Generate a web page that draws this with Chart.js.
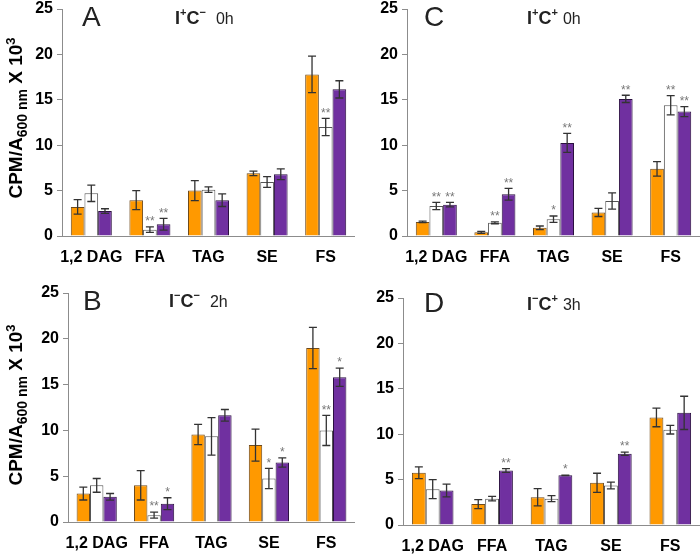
<!DOCTYPE html>
<html>
<head>
<meta charset="utf-8">
<script src="https://cdn.jsdelivr.net/npm/chart.js@4.4.1/dist/chart.umd.min.js"></script>
<style>
  html,body{margin:0;padding:0;background:#fff;}
  #wrap{position:relative;width:700px;height:557px;overflow:hidden;font-family:"Liberation Sans",Arial,sans-serif;}
  canvas{position:absolute;}
  .letter{position:absolute;font-size:28px;line-height:28px;color:#222;}
  .ttl{position:absolute;font-size:18px;line-height:18px;font-weight:bold;color:#222;white-space:nowrap;}
  .ttl .s{position:relative;top:-8px;font-size:11px;}
  .ttl .h{font-weight:normal;font-size:16px;}
  .ylab{position:absolute;width:240px;height:22px;line-height:22px;text-align:center;font-weight:bold;font-size:19px;color:#000;
        transform:rotate(-90deg);white-space:nowrap;}
  .ylab .sub{font-size:14px;position:relative;top:5px;}
  .ylab .sup{font-size:13px;position:relative;top:-7px;}
</style>
</head>
<body>
<div id="wrap">
  <canvas id="cA" width="355" height="275" style="left:0;top:0"></canvas>
  <canvas id="cC" width="350" height="275" style="left:350px;top:0"></canvas>
  <canvas id="cB" width="355" height="280" style="left:0;top:277px"></canvas>
  <canvas id="cD" width="350" height="280" style="left:350px;top:277px"></canvas>

  <div class="letter" style="left:82px;top:3px">A</div>
  <div class="letter" style="left:424px;top:3px">C</div>
  <div class="letter" style="left:83px;top:287px">B</div>
  <div class="letter" style="left:424px;top:289px">D</div>

  <div class="ttl" style="left:175px;top:9px">I<span class="s">+</span>C<span class="s">−</span>&nbsp;&nbsp;<span class="h">0h</span></div>
  <div class="ttl" style="left:527px;top:9px">I<span class="s">+</span>C<span class="s">+</span> <span class="h">0h</span></div>
  <div class="ttl" style="left:169px;top:292px">I<span class="s">−</span>C<span class="s">−</span>&nbsp;&nbsp;<span class="h">2h</span></div>
  <div class="ttl" style="left:527px;top:295px">I<span class="s">−</span>C<span class="s">+</span> <span class="h">3h</span></div>

  <div class="ylab" style="left:-104px;top:107px">CPM/A<span class="sub">600 nm</span> X 10<span class="sup">3</span></div>
  <div class="ylab" style="left:-104px;top:394px">CPM/A<span class="sub">600 nm</span> X 10<span class="sup">3</span></div>
</div>
<script>
// ===== 資料 =====
const cats = ['1,2 DAG', 'FFA', 'TAG', 'SE', 'FS'];

// A: I+C- 0h
const A_org = [3.2, 3.95, 5.0, 6.9, 17.8],   A_orgErr = [0.8, 1.05, 1.1, 0.25, 2.0];
const A_wht = [4.7, 0.7, 5.1, 5.95, 12.0],   A_whtErr = [0.9, 0.3, 0.3, 0.6, 0.95];
const A_pur = [2.75, 1.3, 3.95, 6.8, 16.15], A_purErr = [0.25, 0.65, 0.7, 0.6, 0.95];
const A_whtStar = ['', '**', '', '', '**'];
const A_purStar = ['', '**', '', '', ''];

// C: I+C+ 0h
const C_org = [1.55, 0.4, 0.9, 2.6, 7.4],    C_orgErr = [0.08, 0.1, 0.2, 0.45, 0.8];
const C_wht = [3.3, 1.45, 1.85, 3.85, 14.4], C_whtErr = [0.4, 0.1, 0.35, 0.9, 1.05];
const C_pur = [3.45, 4.6, 10.25, 15.1, 13.7], C_purErr = [0.25, 0.65, 1.05, 0.4, 0.55];
const C_whtStar = ['**', '**', '*', '', '**'];
const C_purStar = ['**', '**', '**', '**', '**'];

// B: I-C- 2h
const B_org = [3.1, 4.0, 9.55, 8.4, 19.0],   B_orgErr = [0.7, 1.6, 1.1, 1.75, 2.25];
const B_wht = [4.0, 0.75, 9.35, 4.75, 10.0], B_whtErr = [0.75, 0.33, 2.05, 1.1, 1.65];
const B_pur = [2.75, 2.0, 11.65, 6.5, 15.8], B_purErr = [0.36, 0.65, 0.63, 0.5, 1.0];
const B_whtStar = ['', '**', '', '*', '**'];
const B_purStar = ['', '*', '', '*', '*'];

// D: I-C+ 3h
const D_org = [5.75, 2.3, 3.05, 4.65, 11.85], D_orgErr = [0.65, 0.5, 0.95, 1.05, 1.03];
const D_wht = [3.95, 2.9, 2.9, 4.35, 10.5],   D_whtErr = [1.05, 0.25, 0.33, 0.37, 0.48];
const D_pur = [3.8, 6.0, 5.47, 7.85, 12.35],  D_purErr = [0.7, 0.2, 0.03, 0.18, 1.83];
const D_whtStar = ['', '', '', '', ''];
const D_purStar = ['', '**', '*', '**', ''];

const yTicks = [0, 5, 10, 15, 20, 25];

// ===== 樣式 =====
const ORG = '#FF9900', PUR = '#7030A0', AXIS = '#8c8c8c';
const FONT = '"Liberation Sans", Arial, sans-serif';

// 誤差線 + 星號
const errPlugin = {
  id: 'errBars',
  afterDatasetsDraw(c) {
    const { ctx, scales: { y } } = c;
    ctx.save();
    c.data.datasets.forEach((ds, i) => {
      c.getDatasetMeta(i).data.forEach((bar, j) => {
        const v = ds.data[j], e = ds.err[j];
        const yt = y.getPixelForValue(v + e), yb = y.getPixelForValue(v - e);
        const x = bar.x;
        ctx.strokeStyle = '#333'; ctx.lineWidth = 1.3;
        ctx.beginPath();
        ctx.moveTo(x, yt); ctx.lineTo(x, yb);
        ctx.moveTo(x - 4, yt); ctx.lineTo(x + 4, yt);
        ctx.moveTo(x - 4, yb); ctx.lineTo(x + 4, yb);
        ctx.stroke();
        const s = ds.stars && ds.stars[j];
        if (s) {
          ctx.fillStyle = '#777'; ctx.font = '12px ' + FONT;
          ctx.textAlign = 'center'; ctx.textBaseline = 'bottom';
          ctx.fillText(s, x, yt + 1);
        }
      });
    });
    ctx.restore();
  }
};

function makeChart(id, org, orgErr, wht, whtErr, pur, purErr, whtStar, purStar, pad) {
  return new Chart(document.getElementById(id), {
    type: 'bar',
    data: {
      labels: cats,
      datasets: [
        { data: org, err: orgErr, backgroundColor: ORG, borderColor: '#6e4a1c', borderWidth: 1 },
        { data: wht, err: whtErr, stars: whtStar, backgroundColor: '#fff', borderColor: '#555', borderWidth: 1 },
        { data: pur, err: purErr, stars: purStar, backgroundColor: PUR, borderColor: '#2b1040', borderWidth: 1 }
      ]
    },
    options: {
      responsive: false, animation: false, devicePixelRatio: 1,
      layout: { padding: pad },
      plugins: { legend: { display: false }, tooltip: { enabled: false } },
      datasets: { bar: { categoryPercentage: 0.7, barPercentage: 1.0 } },
      scales: {
        x: {
          grid: { display: false },
          border: { display: true, color: AXIS, width: 1 },
          ticks: { color: '#000', font: { family: FONT, size: 16, weight: 'bold' }, padding: 4, maxRotation: 0, autoSkip: false },
          afterFit: s => { s.height = pad.xh; }
        },
        y: {
          min: 0, max: 25,
          afterBuildTicks: s => { s.ticks = yTicks.map(v => ({ value: v })); },
          grid: { drawOnChartArea: false, drawTicks: true, tickLength: 5, color: AXIS },
          border: { display: true, color: AXIS, width: 1 },
          ticks: { color: '#000', font: { family: FONT, size: 16, weight: 'bold', lineHeight: 1 }, padding: 4 },
          afterFit: s => { s.width = 40; s.paddingTop = 0; s.paddingBottom = 0; }
        }
      }
    },
    plugins: [errPlugin]
  });
}

makeChart('cA', A_org, A_orgErr, A_wht, A_whtErr, A_pur, A_purErr, A_whtStar, A_purStar, { left: 22, top: 9, right: 0, bottom: 0, xh: 39 });
makeChart('cC', C_org, C_orgErr, C_wht, C_whtErr, C_pur, C_purErr, C_whtStar, C_purStar, { left: 17, top: 9, right: 0, bottom: 0, xh: 39 });
makeChart('cB', B_org, B_orgErr, B_wht, B_whtErr, B_pur, B_purErr, B_whtStar, B_purStar, { left: 28, top: 16, right: 0, bottom: 0, xh: 35 });
makeChart('cD', D_org, D_orgErr, D_wht, D_whtErr, D_pur, D_purErr, D_whtStar, D_purStar, { left: 13, top: 21, right: 0, bottom: 0, xh: 32 });
</script>
</body>
</html>
